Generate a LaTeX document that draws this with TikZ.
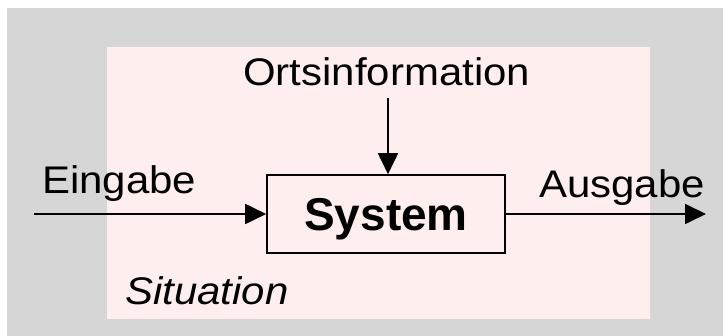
\documentclass[tikz,border=0pt]{standalone}
\usepackage{fontspec}
\setmainfont{Liberation Sans}
\usetikzlibrary{arrows.meta}
\definecolor{bggray}{RGB}{214,214,214}
\definecolor{bgpink}{RGB}{255,238,238}
\newcommand{\lbltext}[1]{\scalebox{1.09}[1]{\fontsize{38.5}{46}\selectfont #1}}
\tikzset{
  lbl/.style={inner sep=0pt, anchor=base west},
  conn/.style={line width=1.8pt, -{Triangle[length=21pt,width=20pt]}},
  sysbox/.style={draw, line width=1.6pt, inner sep=0pt, minimum width=238pt, minimum height=78pt,
    text height=34pt, text depth=0pt, font=\fontsize{46}{54}\selectfont\bfseries}
}
\begin{document}
\begin{tikzpicture}[x=1pt,y=-1pt]
\useasboundingbox (0,0) rectangle (723,336);
\fill[bggray] (7,8) rectangle (723,336);
\fill[bgpink] (107,47) rectangle (650,319);
\node[sysbox] (sys) at (386,214) {System};
\node[lbl] (ort) at (243,86) {\lbltext{Ortsinformation}};
\node[lbl] (ein) at (42,194) {\lbltext{Eingabe}};
\node[lbl] (aus) at (539,198) {\lbltext{Ausgabe}};
\node[lbl] (sit) at (125,305) {\lbltext{\itshape Situation}};
\coordinate (ortstart) at (388,98);
\coordinate (einstart) at (34,214);
\coordinate (ausend) at (706,214);
\draw[conn] (ortstart) -- (ortstart |- sys.north);
\draw[conn] (einstart) -- (sys.west);
\draw[conn] (sys.east) -- (ausend);
\end{tikzpicture}
\end{document}
